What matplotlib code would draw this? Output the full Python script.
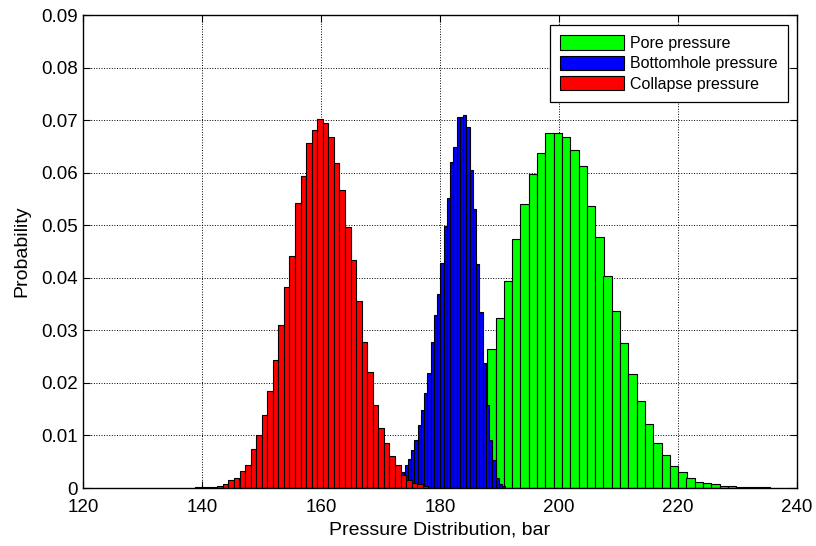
import numpy as np
import matplotlib
matplotlib.use("Agg")
import matplotlib.pyplot as plt
from matplotlib.ticker import FuncFormatter

plt.rcParams['font.family'] = ['Liberation Sans', 'DejaVu Sans']

# histogram bin centres (bar) and relative frequencies
pore_x = [174.69, 176.09, 177.48, 178.88, 180.27, 181.67, 183.07, 184.46,
          185.86, 187.25, 188.65, 190.05, 191.44, 192.84, 194.23, 195.63,
          197.03, 198.42, 199.82, 201.21, 202.61, 204.01, 205.40, 206.80,
          208.19, 209.59, 210.99, 212.38, 213.78, 215.17, 216.57, 217.97,
          219.36, 220.76, 222.15, 223.55, 224.95, 226.34, 227.74, 229.13,
          230.53, 231.93, 233.32, 234.72]
pore_p = [0.0003, 0.0006, 0.0011, 0.0020, 0.0035, 0.0055, 0.0082, 0.0118,
          0.0160, 0.0213, 0.0264, 0.0323, 0.0394, 0.0473, 0.0540, 0.0597,
          0.0637, 0.0675, 0.0675, 0.0668, 0.0643, 0.0613, 0.0537, 0.0478,
          0.0404, 0.0337, 0.0276, 0.0217, 0.0166, 0.0121, 0.0086, 0.0063,
          0.0042, 0.0030, 0.0019, 0.0012, 0.0009, 0.0008, 0.0004, 0.0003,
          0.0002, 0.0002, 0.0001, 0.0001]
pore_w = 1.396

bhp_x = [172.11, 172.66, 173.21, 173.75, 174.30, 174.85, 175.39, 175.94,
         176.49, 177.04, 177.58, 178.13, 178.68, 179.22, 179.77, 180.32,
         180.86, 181.41, 181.96, 182.51, 183.05, 183.60, 184.15, 184.69,
         185.24, 185.79, 186.33, 186.88, 187.43, 187.98, 188.52, 189.07,
         189.62, 190.16, 190.71]
bhp_p = [0.0005, 0.0010, 0.0018, 0.0031, 0.0044, 0.0056, 0.0072, 0.0091,
         0.0119, 0.0148, 0.0180, 0.0219, 0.0277, 0.0330, 0.0370, 0.0429,
         0.0498, 0.0552, 0.0620, 0.0648, 0.0705, 0.0706, 0.0710, 0.0686,
         0.0605, 0.0531, 0.0427, 0.0334, 0.0237, 0.0158, 0.0091, 0.0053,
         0.0020, 0.0008, 0.0003]
bhp_w = 0.547

coll_x = [139.26, 140.20, 141.13, 142.07, 143.00, 143.93, 144.87, 145.80,
          146.74, 147.67, 148.60, 149.54, 150.47, 151.41, 152.34, 153.27,
          154.21, 155.14, 156.08, 157.01, 157.94, 158.88, 159.81, 160.75,
          161.68, 162.61, 163.55, 164.48, 165.42, 166.35, 167.28, 168.22,
          169.15, 170.09, 171.02, 171.95, 172.89, 173.82, 174.76, 175.69,
          176.62, 177.56]
coll_p = [0.0001, 0.0001, 0.0001, 0.0002, 0.0004, 0.0008, 0.0015, 0.0020,
          0.0032, 0.0044, 0.0074, 0.0101, 0.0138, 0.0185, 0.0244, 0.0310,
          0.0382, 0.0441, 0.0542, 0.0594, 0.0656, 0.0682, 0.0702, 0.0695,
          0.0667, 0.0619, 0.0567, 0.0496, 0.0434, 0.0355, 0.0278, 0.0221,
          0.0158, 0.0115, 0.0086, 0.0060, 0.0044, 0.0025, 0.0015, 0.0009,
          0.0007, 0.0003]
coll_w = 0.934

fig = plt.figure(figsize=(8.16, 5.46), dpi=100)
ax = fig.add_axes([0.1021, 0.1062, 0.8743, 0.8663])

ax.bar(pore_x, pore_p, width=pore_w, color=(0, 1, 0), edgecolor='black',
       linewidth=0.8, label='Pore pressure', zorder=3)
ax.bar(bhp_x, bhp_p, width=bhp_w, color=(0, 0, 1), edgecolor='black',
       linewidth=0.8, label='Bottomhole pressure', zorder=3)
ax.bar(coll_x, coll_p, width=coll_w, color=(1, 0, 0), edgecolor='black',
       linewidth=0.8, label='Collapse pressure', zorder=3)

ax.set_xlim(120, 240)
ax.set_ylim(0, 0.09)
ax.set_xticks(np.arange(120, 241, 20))
ax.set_yticks(np.arange(0, 0.0901, 0.01))
ax.yaxis.set_major_formatter(FuncFormatter(lambda v, p: '%g' % round(v, 3)))
ax.tick_params(direction='in', top=True, right=True, length=5, width=0.8,
               labelsize=13.5)
ax.tick_params(axis='x', pad=8)
ax.tick_params(axis='y', pad=4)
ax.grid(True, linestyle=':', color='black', linewidth=0.7, zorder=0)
for s in ax.spines.values():
    s.set_linewidth(1.0)
    s.set_zorder(5)

ax.set_xlabel('Pressure Distribution, bar', fontsize=14, labelpad=4)
ax.set_ylabel('Probability', fontsize=14, labelpad=8)

leg = ax.legend(loc='upper right', bbox_to_anchor=(0.988, 0.979),
                borderaxespad=0, fancybox=False, framealpha=1,
                edgecolor='black', fontsize=11.5, handlelength=4.0,
                handleheight=1.0, labelspacing=0.3, borderpad=0.65,
                handletextpad=0.4)
leg.get_frame().set_linewidth(0.9)
for h in leg.legend_handles:
    h.set_linewidth(0.8)

fig.savefig('out.png', dpi=100)
